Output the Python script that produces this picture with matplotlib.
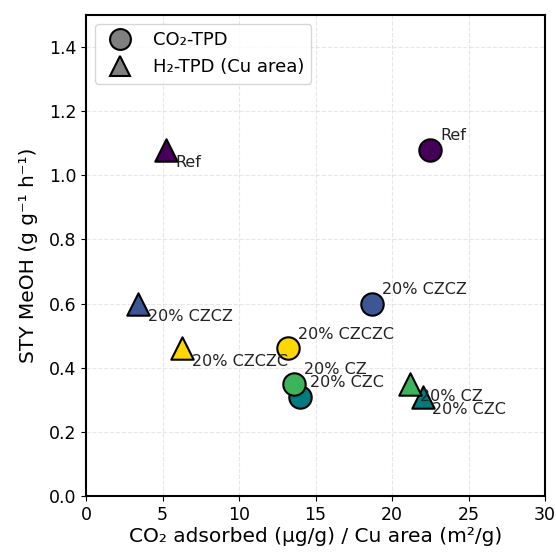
import numpy as np
import matplotlib
matplotlib.use("Agg")
import matplotlib.pyplot as plt
from matplotlib.lines import Line2D

# catalysts, same order for both series
catalysts = ["Ref", "20% CZCZ", "20% CZC", "20% CZ", "20% CZCZC"]
sty_meoh = [1.08, 0.60, 0.31, 0.35, 0.46]
co2_adsorbed = [22.5, 18.7, 14.0, 13.6, 13.2]
cu_area = [5.2, 3.4, 22.0, 21.2, 6.3]

colors = ["#46005a", "#3b5796", "#007b80", "#3cb45a", "#ffd700"]

fig = plt.figure(figsize=(5.56, 5.55), dpi=100)
ax = fig.add_axes([86 / 556, 59 / 555, 459 / 556, 481 / 555])

for i, name in enumerate(catalysts):
    ax.scatter(co2_adsorbed[i], sty_meoh[i], s=260, marker="o", color=colors[i],
               edgecolor="black", linewidth=1.5, zorder=3)
    ax.annotate(name, (co2_adsorbed[i], sty_meoh[i]), xytext=(7, 7),
                textcoords="offset points", fontsize=11.5, color="#222222")
    ax.scatter(cu_area[i], sty_meoh[i], s=260, marker="^", color=colors[i],
               edgecolor="black", linewidth=1.5, zorder=3)
    ax.annotate(name, (cu_area[i], sty_meoh[i]), xytext=(7, -4),
                textcoords="offset points", fontsize=11.5, color="#222222", va="top")

ax.set_xlim(0, 30)
ax.set_ylim(0, 1.5)
ax.set_yticks(np.arange(0, 1.41, 0.2))
ax.set_xlabel("CO\u2082 adsorbed (\u00b5g/g) / Cu area (m\u00b2/g)", fontsize=14.5, labelpad=2)
ax.set_ylabel("STY MeOH (g g\u207b\u00b9 h\u207b\u00b9)", fontsize=14.5, labelpad=8)
ax.tick_params(labelsize=12.5)
ax.grid(True, linestyle="--", alpha=0.3)
for sp in ax.spines.values():
    sp.set_linewidth(1.5)

handles = [
    Line2D([], [], marker="o", linestyle="none", markersize=15, markerfacecolor="grey",
           markeredgecolor="black", markeredgewidth=1.5, label="CO\u2082-TPD"),
    Line2D([], [], marker="^", linestyle="none", markersize=15, markerfacecolor="grey",
           markeredgecolor="black", markeredgewidth=1.5, label="H\u2082-TPD (Cu area)"),
]
ax.legend(handles=handles, loc="upper left", fontsize=13)

fig.savefig("out.png", dpi=100)
